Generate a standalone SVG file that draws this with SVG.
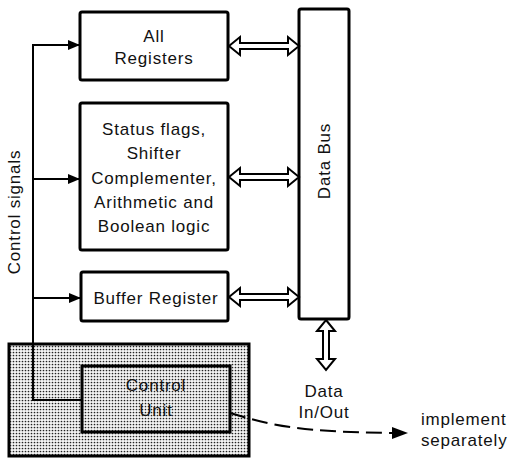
<svg xmlns="http://www.w3.org/2000/svg" width="511" height="458" viewBox="0 0 511 458">
<style>
.box{fill:#fff;stroke:#000;stroke-width:3}
.t{font-family:"Liberation Sans",Arial,sans-serif;font-size:17px;letter-spacing:0.8px;fill:#111;text-anchor:middle}
.ln{fill:none;stroke:#000;stroke-width:2}
.dbl{fill:#fff;stroke:#000;stroke-width:2;stroke-linejoin:miter}
</style>
<defs>
<pattern id="dots" width="3" height="3" patternUnits="userSpaceOnUse">
<rect width="3" height="3" fill="#f4f4f4"/>
<circle cx="1.5" cy="1.5" r="0.85" fill="#222"/>
</pattern>
<marker id="ah" markerWidth="12" markerHeight="10" refX="12" refY="5" orient="auto" markerUnits="userSpaceOnUse">
<path d="M0,0 L12,5 L0,10 Z" fill="#000"/>
</marker>
<marker id="ah2" markerWidth="16" markerHeight="12" refX="16" refY="6" orient="auto" markerUnits="userSpaceOnUse">
<path d="M0,0 L16,6 L0,12 Z" fill="#000"/>
</marker>
</defs>

<g id="control-outer">
<rect x="9" y="344" width="240" height="112" fill="url(#dots)" stroke="#000" stroke-width="3"/>
</g>

<g id="all-registers">
<rect class="box" x="80" y="12" width="148" height="68" rx="2"/>
<text class="t" x="154" y="42">All</text>
<text class="t" x="154" y="64">Registers</text>
</g>

<g id="status">
<rect class="box" x="80" y="103" width="148" height="147" rx="2"/>
<text class="t" x="154" y="135">Status flags,</text>
<text class="t" x="154" y="159">Shifter</text>
<text class="t" x="154" y="184">Complementer,</text>
<text class="t" x="154" y="208">Arithmetic and</text>
<text class="t" x="154" y="232">Boolean logic</text>
</g>

<g id="buffer">
<rect class="box" x="81" y="272" width="147" height="49" rx="2"/>
<text class="t" x="156" y="304">Buffer Register</text>
</g>

<g id="data-bus">
<rect class="box" x="299" y="9" width="50" height="310" rx="2"/>
<text class="t" x="0" y="0" transform="translate(330,161) rotate(-90)">Data Bus</text>
</g>

<g id="control-unit">
<rect x="82" y="366" width="148" height="66" fill="url(#dots)" stroke="#000" stroke-width="3"/>
<text class="t" x="156" y="391">Control</text>
<text class="t" x="156" y="416">Unit</text>
</g>

<g id="labels">
<text class="t" x="0" y="0" transform="translate(20,212) rotate(-90)">Control signals</text>
<text class="t" x="324" y="397">Data</text>
<text class="t" x="324" y="418">In/Out</text>
<text class="t" x="421" y="425" style="text-anchor:start">implement</text>
<text class="t" x="421" y="446" style="text-anchor:start">separately</text>
</g>

<g id="connectors">
<path class="ln" d="M82,400 H33 V45 H80" marker-end="url(#ah)"/>
<path class="ln" d="M33,179 H80" marker-end="url(#ah)"/>
<path class="ln" d="M33,298 H81" marker-end="url(#ah)"/>
<path class="dbl" d="M229,46 L240,37 L240,43 L288,43 L288,37 L299,46 L288,55 L288,49 L240,49 L240,55 Z"/>
<path class="dbl" d="M229,177 L240,168 L240,174 L288,174 L288,168 L299,177 L288,186 L288,180 L240,180 L240,186 Z"/>
<path class="dbl" d="M229,297 L240,288 L240,294 L288,294 L288,288 L299,297 L288,306 L288,300 L240,300 L240,306 Z"/>
<path class="dbl" d="M326,320 L335,331 L329,331 L329,359 L335,359 L326,370 L317,359 L323,359 L323,331 L317,331 Z"/>
<path d="M230,413 C270,425 300,433 408,433" fill="none" stroke="#000" stroke-width="2" stroke-dasharray="16,7" marker-end="url(#ah2)"/>
</g>
</svg>
